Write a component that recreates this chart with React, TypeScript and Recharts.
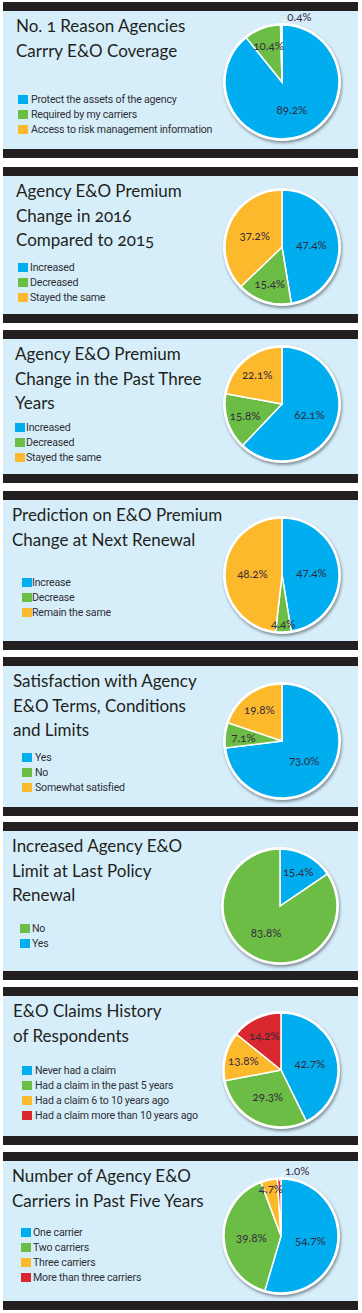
import { PieChart, Pie, Cell } from "recharts";

// ---- data ----
const BLUE = "#00adee";
const GREEN = "#6cbd45";
const YELLOW = "#fdb92c";
const RED = "#d8272e";

const reasonTitle = ["No. 1 Reason Agencies", "Carrry E&O Coverage"];
const reasonNames = ["Protect the assets of the agency", "Required by my carriers", "Access to risk management information"];
const reasonValues = [89.2, 10.4, 0.4];

const change2016Title = ["Agency E&O Premium", "Change in 2016", "Compared to 2015"];
const change2016Names = ["Increased", "Decreased", "Stayed the same"];
const change2016Values = [47.4, 15.4, 37.2];

const threeYearTitle = ["Agency E&O Premium", "Change in the Past Three", "Years"];
const threeYearNames = ["Increased", "Decreased", "Stayed the same"];
const threeYearValues = [62.1, 15.8, 22.1];

const predictionTitle = ["Prediction on E&O Premium", "Change at Next Renewal"];
const predictionNames = ["Increase", "Decrease", "Remain the same"];
const predictionValues = [47.4, 4.4, 48.2];

const satisfactionTitle = ["Satisfaction with Agency", "E&O Terms, Conditions", "and Limits"];
const satisfactionNames = ["Yes", "No", "Somewhat satisfied"];
const satisfactionValues = [73.0, 7.1, 19.8];

const limitTitle = ["Increased Agency E&O", "Limit at Last Policy", "Renewal"];
const limitNames = ["Yes", "No"];
const limitValues = [15.4, 83.8];
const limitLegendOrder = [1, 0];

const claimsTitle = ["E&O Claims History", "of Respondents"];
const claimsNames = ["Never had a claim", "Had a claim in the past 5 years", "Had a claim 6 to 10 years ago", "Had a claim more than 10 years ago"];
const claimsValues = [42.7, 29.3, 13.8, 14.2];

const carriersTitle = ["Number of Agency E&O", "Carriers in Past Five Years"];
const carriersNames = ["One carrier", "Two carriers", "Three carriers", "More than three carriers"];
const carriersValues = [54.7, 39.8, 4.7, 1.0];

const SLICE_COLORS = [BLUE, GREEN, YELLOW, RED];

type Layout = {
  top: number; height: number; titleX: number; legendY: number;
  swatchX: number; textX: number; cx: number; cy: number;
};

type PanelDef = {
  title: string[]; names: string[]; values: number[];
  legendOrder?: number[]; layout: Layout;
};

const panels: PanelDef[] = [
  { title: reasonTitle, names: reasonNames, values: reasonValues,
    layout: { top: 2, height: 156, titleX: 16, legendY: 97, swatchX: 18, textX: 31, cx: 282, cy: 80 } },
  { title: change2016Title, names: change2016Names, values: change2016Values,
    layout: { top: 167, height: 156, titleX: 16, legendY: 100, swatchX: 18, textX: 30, cx: 282, cy: 80 } },
  { title: threeYearTitle, names: threeYearNames, values: threeYearValues,
    layout: { top: 330, height: 153, titleX: 15, legendY: 97, swatchX: 15, textX: 26, cx: 282, cy: 74 } },
  { title: predictionTitle, names: predictionNames, values: predictionValues,
    layout: { top: 491, height: 159, titleX: 12, legendY: 91, swatchX: 22, textX: 32, cx: 282, cy: 84 } },
  { title: satisfactionTitle, names: satisfactionNames, values: satisfactionValues,
    layout: { top: 657, height: 159, titleX: 13, legendY: 100, swatchX: 22, textX: 35, cx: 282, cy: 84 } },
  { title: limitTitle, names: limitNames, values: limitValues, legendOrder: limitLegendOrder,
    layout: { top: 822, height: 158, titleX: 12, legendY: 106, swatchX: 20, textX: 32, cx: 280, cy: 84 } },
  { title: claimsTitle, names: claimsNames, values: claimsValues,
    layout: { top: 987, height: 158, titleX: 13, legendY: 83, swatchX: 22, textX: 35, cx: 281, cy: 83 } },
  { title: carriersTitle, names: carriersNames, values: carriersValues,
    layout: { top: 1152, height: 158, titleX: 12, legendY: 80, swatchX: 21, textX: 33, cx: 281, cy: 84 } },
];

const RADIUS = 57;
const BOX = 170;
const RAD = Math.PI / 180;

function SliceLabel(props: any) {
  const { cx, cy, midAngle, outerRadius, value } = props;
  const v = Number(value);
  const text = `${v.toFixed(1)}%`;
  const cos = Math.cos(-midAngle * RAD);
  const sin = Math.sin(-midAngle * RAD);
  const style = {
    fontFamily: "Lato, 'Open Sans', sans-serif",
    fontSize: 11.5,
    fill: "#34283f",
    fontVariantNumeric: "oldstyle-nums",
  } as const;
  if (v < 2) {
    // tiny slice: label outside with a short leader
    const x1 = cx + (outerRadius - 2) * cos;
    const y1 = cy + (outerRadius - 2) * sin;
    const x2 = cx + (outerRadius + 6) * cos + 4;
    const y2 = cy + (outerRadius + 6) * sin;
    return (
      <g>
        <line x1={x1} y1={y1} x2={x2} y2={y2} stroke="#fff" strokeWidth={1} />
        <text x={x2 + 2} y={y2 - 3} textAnchor="start" dominantBaseline="central" style={style}>
          {text}
        </text>
      </g>
    );
  }
  const k = v < 6 ? 0.85 : v < 25 ? 0.68 : 0.52;
  const x = cx + outerRadius * k * cos;
  const y = cy + outerRadius * k * sin;
  return (
    <text x={x} y={y} textAnchor="middle" dominantBaseline="central" style={style}>
      {text}
    </text>
  );
}

function Panel({ def }: { def: PanelDef }) {
  const { layout: l } = def;
  const data = def.names.map((name, i) => ({ name, value: def.values[i] }));
  const order = def.legendOrder ?? def.names.map((_, i) => i);
  return (
    <div style={{ position: "absolute", left: 3, top: l.top, width: 355, height: l.height, background: "#d6eefa" }}>
      <div style={{ position: "absolute", left: 0, top: 0, width: "100%", height: 9, background: "#231f20" }} />
      <div style={{ position: "absolute", left: 0, bottom: 0, width: "100%", height: 9, background: "#231f20" }} />
      <div
        style={{
          position: "absolute", left: l.titleX - 3, top: 12,
          fontFamily: "Lato, 'Open Sans', sans-serif", fontSize: 17, lineHeight: "24.5px",
          color: "#231f20", whiteSpace: "nowrap", fontVariantNumeric: "oldstyle-nums",
        }}
      >
        {def.title.map((t, i) => <div key={i}>{t}</div>)}
      </div>
      {order.map((idx, row) => (
        <div
          key={idx}
          style={{
            position: "absolute", left: l.swatchX - 3, top: l.legendY + row * 15 - 6, height: 12,
            display: "flex", alignItems: "center", whiteSpace: "nowrap",
          }}
        >
          <span style={{ width: 10, height: 9, background: SLICE_COLORS[idx], display: "inline-block" }} />
          <span
            style={{
              marginLeft: l.textX - l.swatchX - 10, fontFamily: "Roboto, sans-serif", fontSize: 10.6,
              letterSpacing: -0.2, color: "#2e2e34",
            }}
          >
            {def.names[idx]}
          </span>
        </div>
      ))}
      {/* white rim + soft shadow under the pie */}
      <div
        style={{
          position: "absolute", left: l.cx - 3 - (RADIUS + 2), top: l.cy - (RADIUS + 2),
          width: 2 * (RADIUS + 2), height: 2 * (RADIUS + 2), borderRadius: "50%",
          background: "#fff", boxShadow: "1px 2px 3px rgba(0,0,0,0.4)",
        }}
      />
      <div style={{ position: "absolute", left: l.cx - 3 - BOX / 2, top: l.cy - BOX / 2 }}>
        <PieChart width={BOX} height={BOX} margin={{ top: 0, right: 0, bottom: 0, left: 0 }}>
          <Pie
            data={data}
            dataKey="value"
            nameKey="name"
            cx="50%"
            cy="50%"
            outerRadius={RADIUS}
            startAngle={90}
            endAngle={-270}
            stroke="#fff"
            strokeWidth={1.5}
            isAnimationActive={false}
            label={SliceLabel}
            labelLine={false}
            rootTabIndex={-1}
          >
            {data.map((_, i) => (
              <Cell key={i} fill={SLICE_COLORS[i]} />
            ))}
          </Pie>
        </PieChart>
      </div>
    </div>
  );
}

export default function App() {
  return (
    <div style={{ position: "absolute", left: 0, top: 0, width: 362, height: 1313, background: "#fff" }}>
      {panels.map((p, i) => (
        <Panel key={i} def={p} />
      ))}
    </div>
  );
}
